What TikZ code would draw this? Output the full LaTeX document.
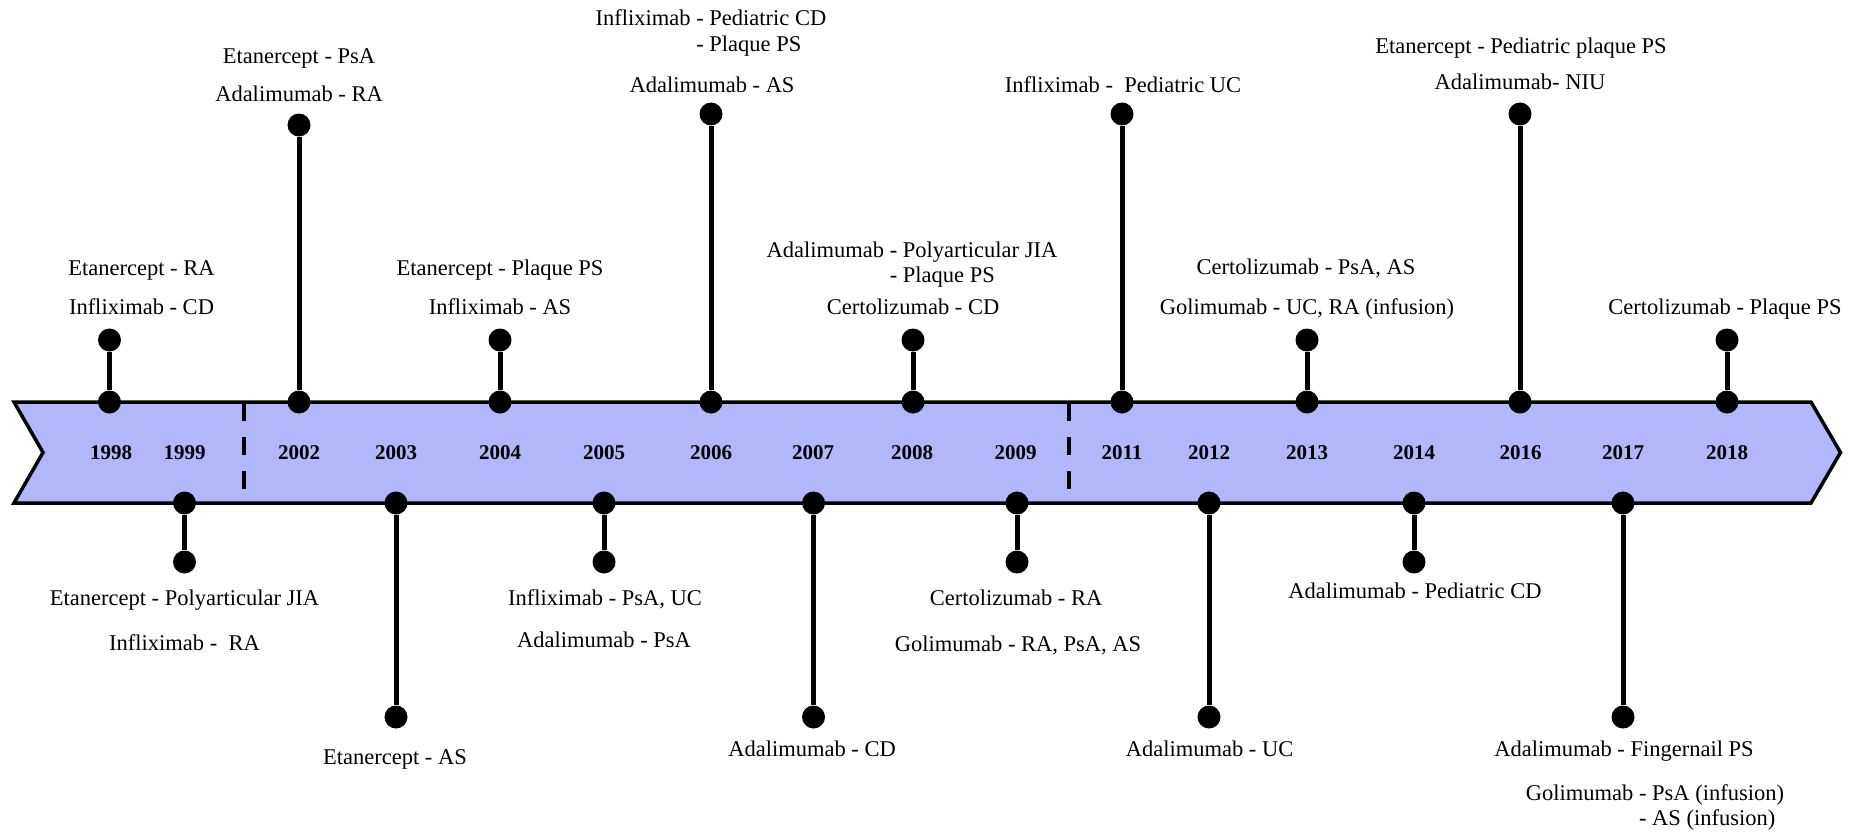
\documentclass[tikz,border=0pt]{standalone}
\usepackage{fontspec}
\setmainfont{Liberation Serif}
\definecolor{bandblue}{RGB}{178,182,250}
\tikzset{
  band/.style={draw=black, line width=3.5pt, fill=bandblue, line join=miter},
  dot/.style={circle, fill=black, inner sep=0pt, minimum size=23pt},
  stem/.style={line width=5pt},
  sep/.style={line width=4.5pt, dash pattern=on 18pt off 16pt},
  lbl/.style={font=\fontsize{22.5}{25}\selectfont, inner sep=0pt, anchor=base},
  lblw/.style={font=\fontsize{22.5}{25}\selectfont, inner sep=0pt, anchor=base west},
  yearlbl/.style={font=\fontsize{21}{25}\selectfont\bfseries, inner sep=0pt, anchor=center}
}
\begin{document}
\begin{tikzpicture}[x=1pt,y=-1pt]
\useasboundingbox (0,0) rectangle (1866,832);
% band
\draw[band] (14,402) -- (1811,402) -- (1840.5,452.5) -- (1811,503) -- (14,503) -- (43,452.5) -- cycle;
% separators
\coordinate (s1a) at (244,403); \coordinate (s1b) at (244,490);
\coordinate (s2a) at (1069,403); \coordinate (s2b) at (1069,490);
\draw[sep] (s1a) -- (s1b);
\draw[sep] (s2a) -- (s2b);
% years
\foreach \yr/\x in {1998/111,1999/184.5,2002/299,2003/396,2004/500,2005/604,2006/711,2007/813,2008/912,2009/1015.5,2011/1122,2012/1209,2013/1307,2014/1414,2016/1520.5,2017/1623,2018/1727}
  \node[yearlbl] (y\yr) at (\x,453) {\yr};
% top events
\foreach \yr/\x/\e in {1998/109.5/340,2002/299/125,2004/500/340,2006/711/114,2008/913/340,2011/1122/114,2013/1307/340,2016/1520/114,2018/1727/340}{
  \node[dot] (b\yr) at (\x,402) {};
  \node[dot] (t\yr) at (\x,\e) {};
  \draw[stem] (b\yr) -- (t\yr);
}
% bottom events
\foreach \yr/\x/\e in {1999/184.5/562,2003/396/717,2005/604/562,2007/813.5/717,2009/1017/562,2012/1209/717,2014/1414/562,2017/1623/717}{
  \node[dot] (b\yr) at (\x,503) {};
  \node[dot] (t\yr) at (\x,\e) {};
  \draw[stem] (b\yr) -- (t\yr);
}
% top labels
\node[lbl] (l1) at (299,64) {Etanercept - PsA};
\node[lbl] (l2) at (299,102) {Adalimumab - RA};
\node[lbl] (l3) at (141.5,275) {Etanercept - RA};
\node[lbl] (l4) at (141.5,314) {Infliximab - CD};
\node[lbl] (l5) at (500,275) {Etanercept - Plaque PS};
\node[lbl] (l6) at (500,314) {Infliximab - AS};
\node[lbl] (l7) at (711,26) {Infliximab - Pediatric CD};
\node[lblw] (l7b) at ([yshift=-26pt]l7.base west) {\phantom{Infliximab }- Plaque PS};
\node[lbl] (l8) at (712,93) {Adalimumab - AS};
\node[lbl] (l9) at (912,257) {Adalimumab - Polyarticular JIA};
\node[lblw] (l9b) at ([yshift=-25pt]l9.base west) {\phantom{Adalimumab }- Plaque PS};
\node[lbl] (l10) at (913,314) {Certolizumab - CD};
\node[lbl] (l11) at (1123,93) {Infliximab -\ \ Pediatric UC};
\node[lbl] (l12) at (1306,274) {Certolizumab - PsA, AS};
\node[lbl] (l13) at (1307,314) {Golimumab - UC, RA (infusion)};
\node[lbl] (l14) at (1521,54) {Etanercept - Pediatric plaque PS};
\node[lbl] (l15) at (1520,90) {Adalimumab- NIU};
\node[lbl] (l16) at (1725,314) {Certolizumab - Plaque PS};
% bottom labels
\node[lbl] (l17) at (184.5,605) {Etanercept - Polyarticular JIA};
\node[lbl] (l18) at (184.5,650) {Infliximab -\ \ RA};
\node[lbl] (l19) at (395,764) {Etanercept - AS};
\node[lbl] (l20) at (605,605) {Infliximab - PsA, UC};
\node[lbl] (l21) at (604,647) {Adalimumab - PsA};
\node[lbl] (l22) at (812,756) {Adalimumab - CD};
\node[lbl] (l23) at (1016,605) {Certolizumab - RA};
\node[lbl] (l24) at (1018,651) {Golimumab - RA, PsA, AS};
\node[lbl] (l25) at (1209.5,756) {Adalimumab - UC};
\node[lbl] (l26) at (1415,598) {Adalimumab - Pediatric CD};
\node[lbl] (l27) at (1624,756) {Adalimumab - Fingernail PS};
\node[lbl] (l28) at (1655,800) {Golimumab - PsA (infusion)};
\node[lblw] (l28b) at ([yshift=-25pt]l28.base west) {\phantom{Golimumab }- AS (infusion)};
\end{tikzpicture}
\end{document}
